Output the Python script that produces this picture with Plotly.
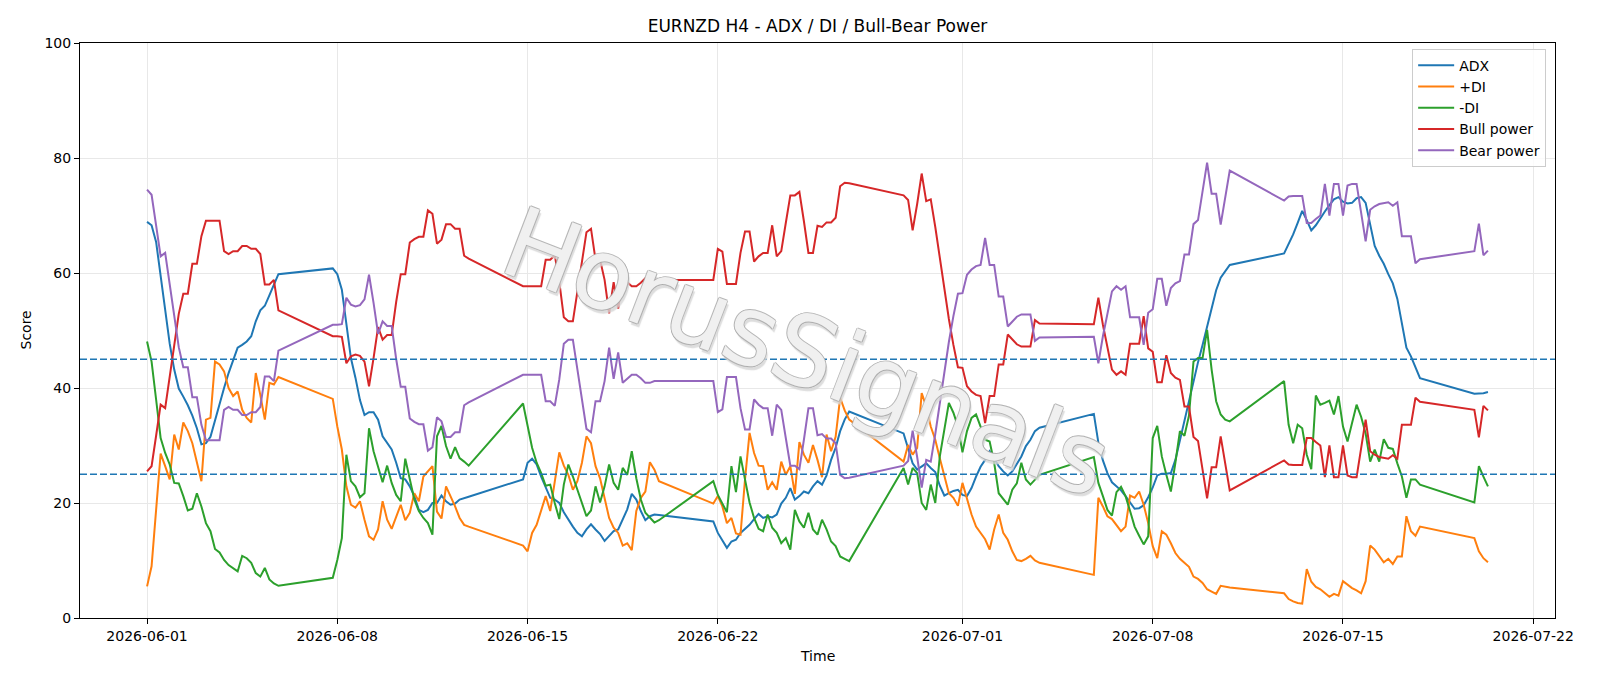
import pandas as pd
import plotly.graph_objects as go

# ---------------- data ----------------
week_starts = ["2026-06-01 00:00", "2026-06-07 20:00", "2026-06-14 20:00", "2026-06-21 20:00",
               "2026-06-28 20:00", "2026-07-05 20:00", "2026-07-12 20:00", "2026-07-19 20:00"]
week_bars = [30, 31, 31, 31, 31, 31, 31, 4]

adx_weeks = [
    [68.9, 68.3, 65.4, 59.3, 53.2, 47.7, 43.2, 39.9, 38.5, 37.0, 35.2, 33.0, 30.2, 30.4, 31.5,
     34.5, 37.4, 40.0, 42.6, 44.9, 47.0, 47.5, 48.1, 49.0, 51.6, 53.5, 54.3, 56.1, 58.0, 59.8],
    [60.8, 59.8, 57.1, 51.6, 45.2, 41.8, 37.9, 35.3, 35.8, 35.8, 34.5, 31.6, 30.4, 29.3, 27.0, 24.3,
     24.1, 22.9, 21.2, 18.8, 18.4, 18.8, 20.0, 20.0, 21.3, 20.3, 19.7, 19.9, 20.6, 20.9, 21.1],
    [24.1, 27.0, 27.7, 26.7, 24.6, 22.9, 20.9, 20.6, 20.0, 18.4, 17.1, 15.9, 14.8, 14.2, 15.4, 16.3,
     15.4, 14.6, 13.4, 14.3, 15.1, 15.4, 17.2, 18.9, 21.6, 20.6, 18.6, 17.0, 17.7, 18.0, 17.9],
    [16.8, 14.8, 13.5, 12.2, 13.3, 13.6, 14.8, 15.5, 16.2, 17.2, 18.1, 17.4, 17.7, 17.5, 18.0, 19.9,
     20.9, 22.6, 20.6, 21.2, 22.0, 21.7, 22.9, 23.8, 23.2, 24.8, 27.5, 29.6, 32.5, 34.5, 35.9],
    [32.1, 29.3, 26.9, 25.8, 26.4, 26.9, 26.1, 25.4, 23.0, 21.3, 21.7, 22.1, 22.3, 21.4, 21.2, 22.6,
     24.6, 26.3, 27.5, 29.0, 27.8, 26.4, 25.5, 24.8, 25.5, 26.9, 28.1, 29.9, 31.0, 32.5, 33.1],
    [35.5, 30.5, 27.4, 25.2, 23.6, 22.9, 22.2, 21.2, 20.0, 19.0, 19.1, 19.6, 21.0, 22.7, 24.8, 25.1,
     25.1, 25.2, 27.5, 31.0, 34.5, 38.0, 41.5, 44.5, 47.5, 50.5, 53.5, 57.0, 59.2, 60.4, 61.4],
    [63.4, 65.0, 66.7, 68.7, 70.8, 69.2, 67.4, 68.3, 69.6, 70.7, 71.8, 72.8, 73.2, 72.4, 72.1, 72.2,
     73.0, 73.2, 72.2, 68.5, 64.7, 63.0, 61.6, 59.8, 58.2, 55.5, 51.0, 47.0, 45.5, 43.5, 41.7],
    [39.0, 39.0, 39.1, 39.3],
]

plus_di_weeks = [
    [5.5, 9.0, 18.8, 28.6, 26.4, 24.1, 31.9, 29.3, 34.0, 32.5, 30.4, 27.2, 23.8, 34.5, 34.8,
     44.6, 44.1, 42.9, 40.0, 38.6, 39.4, 36.2, 34.8, 34.0, 42.6, 38.8, 34.5, 40.9, 40.6, 41.9],
    [38.1, 33.3, 29.3, 22.9, 19.7, 19.2, 20.3, 17.1, 14.2, 13.6, 15.4, 20.3, 17.1, 15.5, 17.7, 19.7,
     17.0, 18.3, 21.7, 20.3, 24.6, 25.5, 26.4, 18.5, 17.3, 22.9, 21.2, 19.4, 17.4, 16.2, 15.9],
    [12.6, 11.6, 14.8, 16.2, 18.6, 21.2, 18.6, 24.1, 28.8, 26.5, 24.9, 22.3, 23.8, 27.0, 31.6, 30.4,
     26.4, 24.3, 20.6, 17.4, 15.7, 14.8, 12.6, 13.0, 11.8, 18.6, 20.9, 22.0, 27.1, 25.8, 23.8],
    [19.9, 21.2, 19.4, 16.5, 17.4, 14.7, 14.5, 24.1, 32.2, 28.7, 26.5, 26.4, 22.3, 23.6, 22.3, 27.2,
     24.9, 26.4, 21.6, 30.6, 28.4, 27.0, 30.1, 27.5, 24.5, 31.9, 29.0, 31.5, 38.3, 36.1, 34.5],
    [27.2, 30.1, 28.4, 29.6, 39.1, 36.8, 33.3, 31.0, 27.8, 24.6, 21.7, 20.9, 19.5, 23.5, 20.9, 18.0,
     15.9, 14.7, 13.7, 11.9, 15.4, 18.0, 14.8, 13.6, 11.6, 10.1, 9.9, 10.3, 10.8, 10.0, 9.6],
    [7.5, 20.9, 19.4, 17.7, 17.2, 16.2, 15.1, 15.9, 21.3, 20.9, 22.0, 19.7, 16.5, 12.5, 10.4, 15.1,
     14.5, 13.0, 11.3, 10.3, 9.6, 8.9, 7.2, 6.8, 6.1, 5.0, 4.6, 4.2, 5.6, 5.5, 5.3],
    [4.3, 3.3, 2.9, 2.6, 2.5, 8.5, 6.3, 5.4, 5.0, 4.3, 3.7, 4.2, 3.9, 6.4, 5.8, 5.2,
     4.8, 4.3, 6.4, 12.6, 11.9, 10.7, 9.7, 10.3, 9.4, 10.7, 10.7, 17.7, 15.1, 14.3, 15.9],
    [13.9, 11.6, 10.4, 9.7],
]

minus_di_weeks = [
    [48.1, 44.6, 38.0, 31.3, 28.7, 26.7, 23.5, 23.4, 21.2, 18.7, 19.0, 21.7, 19.4, 16.5, 15.1,
     12.0, 11.4, 10.1, 9.2, 8.7, 8.1, 10.8, 10.4, 9.6, 7.8, 7.2, 8.7, 6.7, 6.0, 5.6],
    [7.0, 10.1, 13.9, 28.4, 23.8, 22.9, 21.0, 21.7, 33.0, 29.0, 26.4, 23.6, 26.5, 23.5, 21.4, 20.3,
     27.7, 24.1, 20.6, 18.6, 17.4, 16.5, 14.5, 31.6, 33.4, 29.9, 27.7, 29.7, 27.8, 27.2, 26.5],
    [37.3, 33.6, 29.6, 27.0, 25.2, 23.0, 23.2, 20.0, 17.2, 23.2, 26.7, 24.6, 22.4, 20.0, 17.7, 18.7,
     22.9, 20.1, 22.9, 26.7, 23.5, 22.3, 26.1, 24.9, 29.0, 24.3, 20.6, 18.3, 17.4, 16.6, 17.0],
    [23.8, 21.4, 20.0, 18.4, 26.4, 21.9, 28.1, 24.3, 20.1, 17.4, 15.5, 15.1, 18.0, 15.7, 14.8, 13.0,
     13.9, 11.9, 18.8, 16.8, 15.7, 18.3, 15.4, 14.5, 17.1, 15.4, 13.3, 12.5, 10.7, 10.3, 9.9],
    [26.1, 23.2, 26.1, 25.2, 20.0, 18.8, 23.2, 20.0, 28.1, 32.8, 37.4, 35.7, 33.3, 28.8, 32.5, 34.8,
     35.4, 33.3, 31.0, 30.7, 27.0, 21.7, 20.6, 19.7, 22.3, 23.4, 27.0, 24.1, 23.2, 24.1, 24.9],
    [28.0, 23.5, 21.2, 18.8, 17.8, 21.9, 22.8, 21.2, 18.6, 15.9, 14.3, 12.8, 14.2, 31.3, 33.4, 28.1,
     24.9, 22.0, 27.0, 32.5, 31.7, 35.2, 44.6, 45.2, 45.2, 50.1, 43.2, 37.7, 35.4, 34.5, 34.2],
    [41.2, 33.6, 30.4, 33.6, 33.0, 28.4, 25.9, 38.7, 37.1, 37.4, 37.8, 35.4, 38.6, 33.3, 30.7, 33.9,
     37.1, 35.0, 32.1, 27.2, 29.3, 27.2, 31.1, 29.6, 29.4, 26.9, 24.6, 20.9, 24.1, 24.1, 23.2],
    [20.1, 26.4, 24.6, 22.9],
]

bull_weeks = [
    [25.5, 26.4, 31.7, 37.1, 36.5, 41.6, 47.4, 52.9, 56.4, 56.4, 61.6, 61.6, 66.4, 69.1, 69.1,
     69.1, 69.1, 63.8, 63.3, 63.8, 63.8, 64.7, 64.7, 64.2, 64.2, 63.3, 58.0, 58.0, 58.8, 53.5],
    [49.0, 49.0, 48.9, 44.3, 45.5, 45.8, 45.6, 44.6, 40.3, 45.2, 50.6, 48.4, 49.2, 49.2, 55.0, 59.8,
     59.8, 65.3, 65.9, 66.3, 66.3, 70.9, 70.3, 65.1, 65.8, 68.5, 68.5, 67.7, 67.7, 63.0, 62.5],
    [57.7, 57.7, 57.7, 57.7, 57.7, 62.3, 62.3, 63.1, 58.5, 52.3, 51.6, 51.6, 57.0, 62.5, 67.1, 67.7,
     62.3, 62.3, 58.8, 53.0, 58.4, 53.8, 59.1, 58.4, 57.7, 57.7, 58.3, 59.1, 59.1, 58.8, 58.8],
    [58.8, 64.2, 63.7, 58.1, 58.1, 58.1, 63.5, 67.2, 67.2, 62.0, 62.9, 63.5, 63.5, 68.3, 62.9, 63.8,
     68.7, 73.5, 73.5, 74.1, 69.0, 63.5, 63.5, 68.2, 68.0, 68.8, 68.8, 69.6, 75.1, 75.7, 75.6],
    [73.5, 72.7, 67.4, 72.0, 77.3, 72.5, 72.8, 68.0, 62.5, 57.0, 52.0, 47.5, 43.6, 43.5, 40.3, 39.4,
     38.8, 38.6, 33.9, 38.6, 38.6, 44.1, 44.1, 49.3, 48.5, 47.6, 47.2, 47.2, 47.2, 51.8, 51.2],
    [51.1, 55.7, 51.0, 47.0, 43.2, 42.3, 42.9, 42.3, 47.7, 47.7, 47.7, 52.5, 46.9, 46.3, 41.0, 41.0,
     45.7, 42.6, 41.8, 41.4, 36.8, 36.8, 31.5, 30.8, 26.0, 20.8, 26.2, 26.2, 31.6, 26.8, 22.2],
    [27.4, 26.7, 26.6, 26.6, 26.6, 31.3, 31.3, 30.6, 30.0, 24.5, 30.0, 24.5, 24.5, 30.0, 24.8, 24.5,
     24.5, 29.5, 34.5, 29.0, 28.4, 28.0, 27.8, 27.7, 28.3, 27.7, 33.6, 33.6, 33.6, 38.3, 37.6],
    [36.2, 31.4, 36.9, 36.1],
]

bear_weeks = [
    [74.5, 73.6, 68.3, 62.9, 63.5, 58.4, 52.6, 47.1, 43.6, 43.6, 38.4, 38.4, 33.6, 30.9, 30.9,
     30.9, 30.9, 36.2, 36.7, 36.2, 36.2, 35.3, 35.3, 35.8, 35.8, 36.7, 42.0, 42.0, 41.2, 46.5],
    [51.0, 51.0, 51.1, 55.7, 54.5, 54.2, 54.4, 55.4, 59.7, 54.8, 49.4, 51.6, 50.8, 50.8, 45.0, 40.2,
     40.2, 34.7, 34.1, 33.7, 33.7, 29.1, 29.7, 34.9, 34.2, 31.5, 31.5, 32.3, 32.3, 37.0, 37.5],
    [42.3, 42.3, 42.3, 42.3, 42.3, 37.7, 37.7, 36.9, 41.5, 47.7, 48.4, 48.4, 43.0, 37.5, 32.9, 32.3,
     37.7, 37.7, 41.2, 47.0, 41.6, 46.2, 40.9, 41.6, 42.3, 42.3, 41.7, 40.9, 40.9, 41.2, 41.2],
    [41.2, 35.8, 36.3, 41.9, 41.9, 41.9, 36.5, 32.8, 32.8, 38.0, 37.1, 36.5, 36.5, 31.7, 37.1, 36.2,
     31.3, 26.5, 26.5, 25.9, 31.0, 36.5, 36.5, 31.8, 32.0, 31.2, 31.2, 30.4, 24.9, 24.3, 24.4],
    [26.5, 27.3, 32.6, 28.0, 22.7, 27.5, 27.2, 32.0, 37.5, 43.0, 48.0, 52.5, 56.4, 56.5, 59.7, 60.6,
     61.2, 61.4, 66.1, 61.4, 61.4, 55.9, 55.9, 50.7, 51.5, 52.4, 52.8, 52.8, 52.8, 48.2, 48.8],
    [48.9, 44.3, 49.0, 53.0, 56.8, 57.7, 57.1, 57.7, 52.3, 52.3, 52.3, 47.5, 53.1, 53.7, 59.0, 59.0,
     54.3, 57.4, 58.2, 58.6, 63.2, 63.2, 68.5, 69.2, 74.0, 79.2, 73.8, 73.8, 68.4, 73.2, 77.8],
    [72.6, 73.3, 73.4, 73.4, 73.4, 68.7, 68.7, 69.4, 70.0, 75.5, 70.0, 75.5, 75.5, 70.0, 75.2, 75.5,
     75.5, 70.5, 65.5, 71.0, 71.6, 72.0, 72.2, 72.3, 71.7, 72.3, 66.4, 66.4, 66.4, 61.7, 62.4],
    [63.8, 68.6, 63.1, 63.9],
]

tick_dates = ["2026-06-01", "2026-06-08", "2026-06-15", "2026-06-22",
              "2026-07-01", "2026-07-08", "2026-07-15", "2026-07-22"]
y_ticks = [0, 20, 40, 60, 80, 100]
ref_levels = [25, 45]

# ---------------- build ----------------
times = []
for start, n in zip(week_starts, week_bars):
    times.extend(list(pd.date_range(start, periods=n, freq="4h")))


def flat(weeks):
    out = []
    for w, n in zip(weeks, week_bars):
        assert len(w) == n, (len(w), n)
        out.extend(w)
    return out


series = [
    ("ADX", flat(adx_weeks), "#1f77b4"),
    ("+DI", flat(plus_di_weeks), "#ff7f0e"),
    ("-DI", flat(minus_di_weeks), "#2ca02c"),
    ("Bull power", flat(bull_weeks), "#d62728"),
    ("Bear power", flat(bear_weeks), "#9467bd"),
]

fig = go.Figure()
for name, vals, color in series:
    fig.add_trace(go.Scatter(x=times, y=vals, mode="lines", name=name,
                             line=dict(color=color, width=2)))

for lvl in ref_levels:
    fig.add_shape(type="line", xref="paper", x0=0, x1=1, yref="y", y0=lvl, y1=lvl,
                  line=dict(color="#1f77b4", width=1.4, dash="7px,3px"), layer="above")

t0, t1 = times[0], times[-1]
pad = (t1 - t0) * 0.05
xr = [t0 - pad, t1 + pad]

FONT = "DejaVu Sans"
fig.update_layout(
    width=1600, height=686,
    margin=dict(l=80, r=45, t=43, b=68),
    paper_bgcolor="white", plot_bgcolor="white",
    font=dict(family=FONT, size=14, color="black"),
    title=dict(text="EURNZD H4 - ADX / DI / Bull-Bear Power", x=0.5, xref="paper",
               xanchor="center", y=1 - 26 / 686, yref="container", yanchor="middle",
               font=dict(family=FONT, size=17, color="black")),
    showlegend=True,
    legend=dict(x=0.994, y=0.99, xanchor="right", yanchor="top",
                bgcolor="rgba(255,255,255,0.8)", bordercolor="#cccccc", borderwidth=1,
                font=dict(family=FONT, size=14, color="black"), tracegroupgap=0,
                itemwidth=36),
)
fig.update_xaxes(
    type="date", range=xr,
    tickvals=pd.to_datetime(tick_dates), ticktext=tick_dates,
    ticks="outside", ticklen=5, tickwidth=1, tickcolor="black",
    showgrid=True, gridcolor="#e8e8e8", gridwidth=1,
    showline=True, mirror=True, linecolor="black", linewidth=1, zeroline=False,
    tickfont=dict(family=FONT, size=14, color="black"),
)
fig.update_yaxes(
    range=[0, 100], tickvals=y_ticks,
    ticks="outside", ticklen=5, tickwidth=1, tickcolor="black",
    showgrid=True, gridcolor="#e8e8e8", gridwidth=1,
    showline=True, mirror=True, linecolor="black", linewidth=1, zeroline=False,
    tickfont=dict(family=FONT, size=14, color="black"),
)

# axis titles
fig.add_annotation(text="Time", xref="paper", yref="paper", x=0.5, y=(618 - 656) / 575,
                   showarrow=False, xanchor="center", yanchor="middle",
                   font=dict(family=FONT, size=14, color="black"))
fig.add_annotation(text="Score", xref="paper", yref="paper", x=(25 - 80) / 1475, y=0.5,
                   showarrow=False, xanchor="center", yanchor="middle", textangle=-90,
                   font=dict(family=FONT, size=14, color="black"))

# watermark (light outlined text)
fig.add_annotation(text="HorusSignals", xref="paper", yref="paper",
                   x=(806 - 80) / 1475, y=(618 - 352) / 575,
                   showarrow=False, xanchor="center", yanchor="middle", textangle=21,
                   font=dict(family=FONT, size=98, color="rgba(255,255,255,0.82)",
                             shadow="1px 0 0 #a8a8a8, -1px 0 0 #a8a8a8, 0 1px 0 #a8a8a8, "
                                    "0 -1px 0 #a8a8a8, 3px 3px 1px #d6d6d6"))

fig.write_html("out.html")
